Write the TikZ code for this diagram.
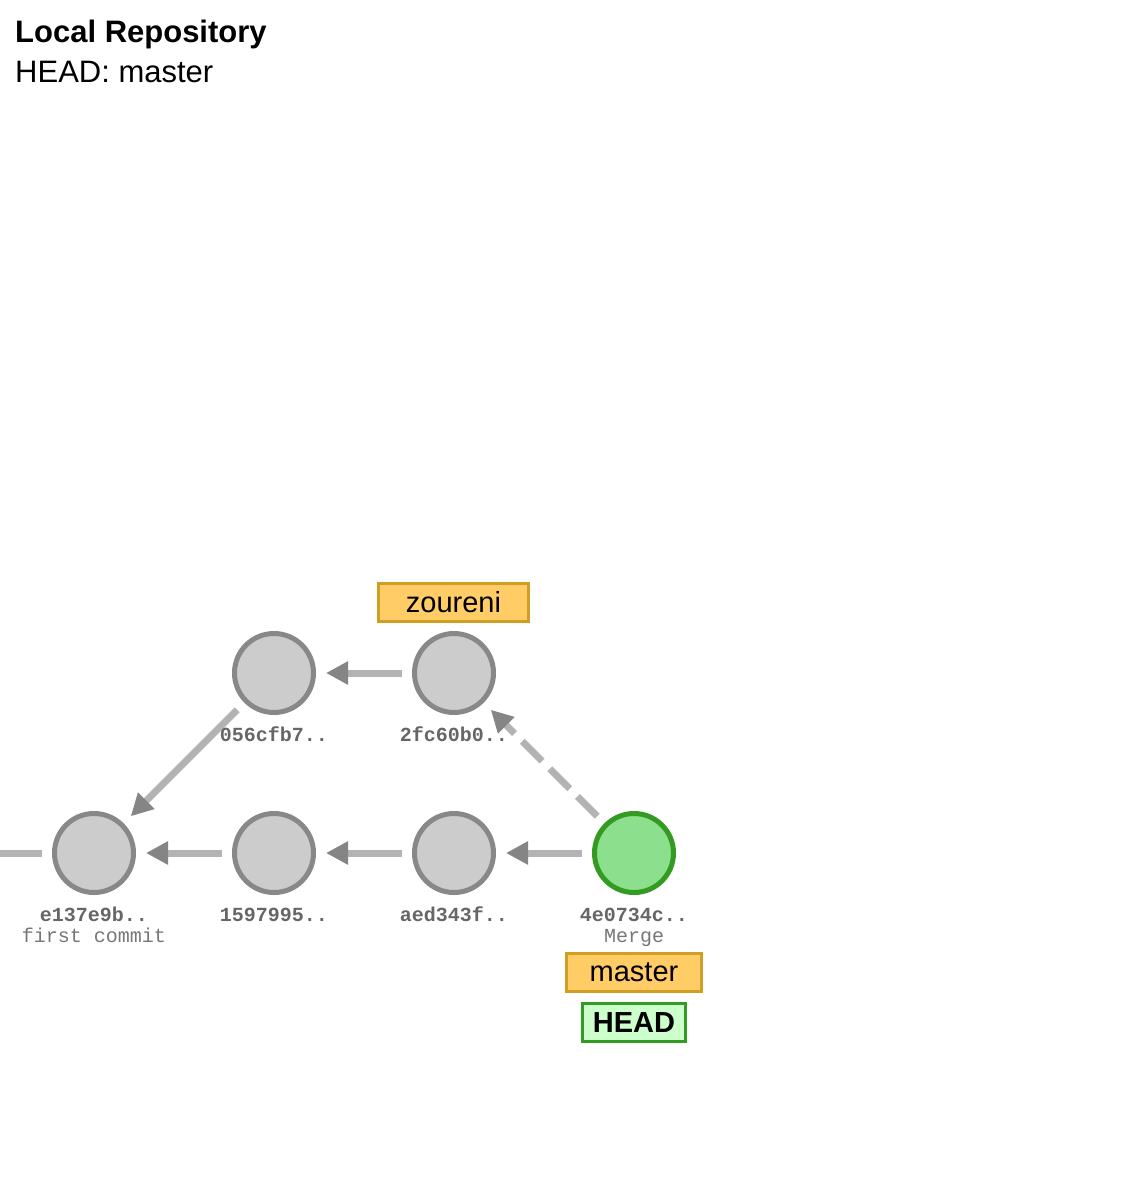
\documentclass[tikz,border=0pt]{standalone}
\usepackage{fontspec}
\setmainfont{Liberation Sans}
\newfontfamily\monof{Liberation Mono}
\usetikzlibrary{arrows.meta}
\definecolor{cfill}{HTML}{CCCCCC}
\definecolor{cstroke}{HTML}{888888}
\definecolor{hfill}{HTML}{8CDF8C}
\definecolor{hstroke}{HTML}{339A22}
\definecolor{bfill}{HTML}{FFCC66}
\definecolor{bstroke}{HTML}{D19E24}
\definecolor{headfill}{HTML}{CCFFCC}
\definecolor{eline}{HTML}{B3B3B3}
\definecolor{etip}{HTML}{858585}
\definecolor{hashc}{HTML}{666666}
\definecolor{msgc}{HTML}{777777}
\tikzset{
  commit/.style={circle, draw=cstroke, fill=cfill, line width=5pt, minimum size=79pt, inner sep=0pt},
  headcommit/.style={commit, draw=hstroke, fill=hfill},
  edge/.style={draw=eline, line width=7pt, shorten >=10pt, shorten <=10pt,
    -{Triangle[length=22pt,width=22pt,color=etip]}},
  stub/.style={draw=eline, line width=7pt, shorten >=10pt},
  hashlbl/.style={anchor=base, inner sep=0pt, text=hashc, font=\monof\bfseries\fontsize{20}{24}\selectfont},
  msglbl/.style={anchor=base, inner sep=0pt, text=msgc, font=\monof\fontsize{20}{24}\selectfont},
  branch/.style={rectangle, draw=bstroke, fill=bfill, line width=3pt, minimum height=38pt, inner sep=0pt, font=\fontsize{29}{34}\selectfont},
  headlbl/.style={rectangle, draw=hstroke, fill=headfill, line width=3pt, minimum height=38pt, inner sep=0pt, font=\bfseries\fontsize{29}{34}\selectfont},
  title/.style={anchor=base west, inner sep=0pt, font=\bfseries\fontsize{31}{37}\selectfont},
  subtitle/.style={anchor=base west, inner sep=0pt, font=\fontsize{31}{37}\selectfont}
}
\begin{document}
\begin{tikzpicture}[x=1pt,y=-1pt]
\useasboundingbox[fill=white] (0,0) rectangle (1134,1186);

\node[title] (t1) at (15,42) {Local Repository};
\node[subtitle] (t2) at (15,82) {HEAD: master};

% commits
\node[commit] (e137) at (94,853) {};
\node[commit] (c159) at (274,853) {};
\node[commit] (aed3) at (454,853) {};
\node[headcommit] (m4e0) at (634,853) {};
\node[commit] (c056) at (274,673) {};
\node[commit] (c2fc) at (454,673) {};

\coordinate (off) at (0,853);

% edges
\draw[stub] (off) -- (e137);
\draw[edge] (c159) -- (e137);
\draw[edge] (aed3) -- (c159);
\draw[edge] (m4e0) -- (aed3);
\draw[edge] (c056) -- (e137);
\draw[edge] (c2fc) -- (c056);
\draw[edge, dash pattern=on 28pt off 11pt] (m4e0) -- (c2fc);

% labels
\node[hashlbl] (l1) at (94,921) {e137e9b..};
\node[msglbl] (m1) at (94,942) {first commit};
\node[hashlbl] (l2) at (274,921) {1597995..};
\node[hashlbl] (l3) at (454,921) {aed343f..};
\node[hashlbl] (l4) at (634,921) {4e0734c..};
\node[msglbl] (m4) at (634,942) {Merge};
\node[hashlbl] (l5) at (274,741) {056cfb7..};
\node[hashlbl] (l6) at (454,741) {2fc60b0..};

% branch labels
\node[branch, minimum width=150pt] (bz) at (453.5,602.5) {zoureni};
\node[branch, minimum width=135pt] (bm) at (634,972.5) {master};
\node[headlbl, minimum width=103pt] (hd) at (634,1022.5) {HEAD};
\end{tikzpicture}
\end{document}
